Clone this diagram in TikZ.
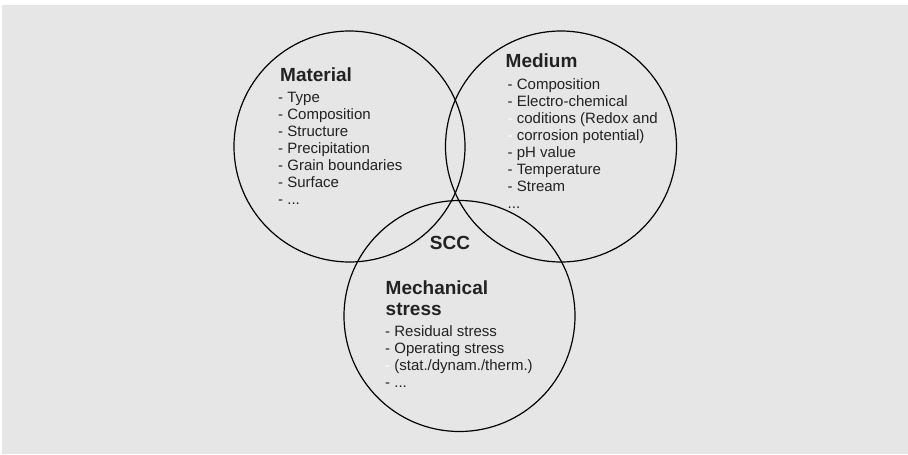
\documentclass[tikz,border=0pt]{standalone}
\usepackage{fontspec}
\setmainfont{Liberation Sans}
\definecolor{bg}{HTML}{E6E6E6}
\definecolor{ink}{HTML}{222222}
\begin{document}
\begin{tikzpicture}[x=1pt,y=-1pt,
  ring/.style={draw=black,line width=1.2pt,circle,minimum size=231pt,inner sep=0pt},
  title/.style={anchor=base west,inner sep=0pt,text=ink,font=\fontsize{19}{21}\selectfont\bfseries,align=left},
  items/.style={anchor=base west,inner sep=0pt,text=ink,font=\fontsize{15}{17}\selectfont,align=left}]
\useasboundingbox (0,0) rectangle (908,455);
\fill[bg] (2,5) rectangle (908,454);
\node[ring] (mat) at (349.5,146.5) {};
\node[ring] (med) at (561,146.5) {};
\node[ring] (mech) at (459.5,316) {};
\node[title] (mattitle) at (280,81.5) {Material};
\node[items] (matlist) at (278,204) {- Type\\- Composition\\- Structure\\- Precipitation\\- Grain boundaries\\- Surface\\- ...};
\node[title] (medtitle) at (505.5,67.5) {Medium};
\node[items] (medlist) at (507.5,208) {- Composition\\- Electro-chemical\\{\color{white}-} coditions (Redox and\\{\color{white}-} corrosion potential)\\- pH value\\- Temperature\\- Stream\\...};
\node[title,anchor=base] (scc) at (450,249) {SCC};
\node[title] (mechtitle) at (385.5,315) {Mechanical\\stress};
\node[items] (mechlist) at (385,387.5) {- Residual stress\\- Operating stress\\{\color{white}-} (stat./dynam./therm.)\\- ...};
\end{tikzpicture}
\end{document}
